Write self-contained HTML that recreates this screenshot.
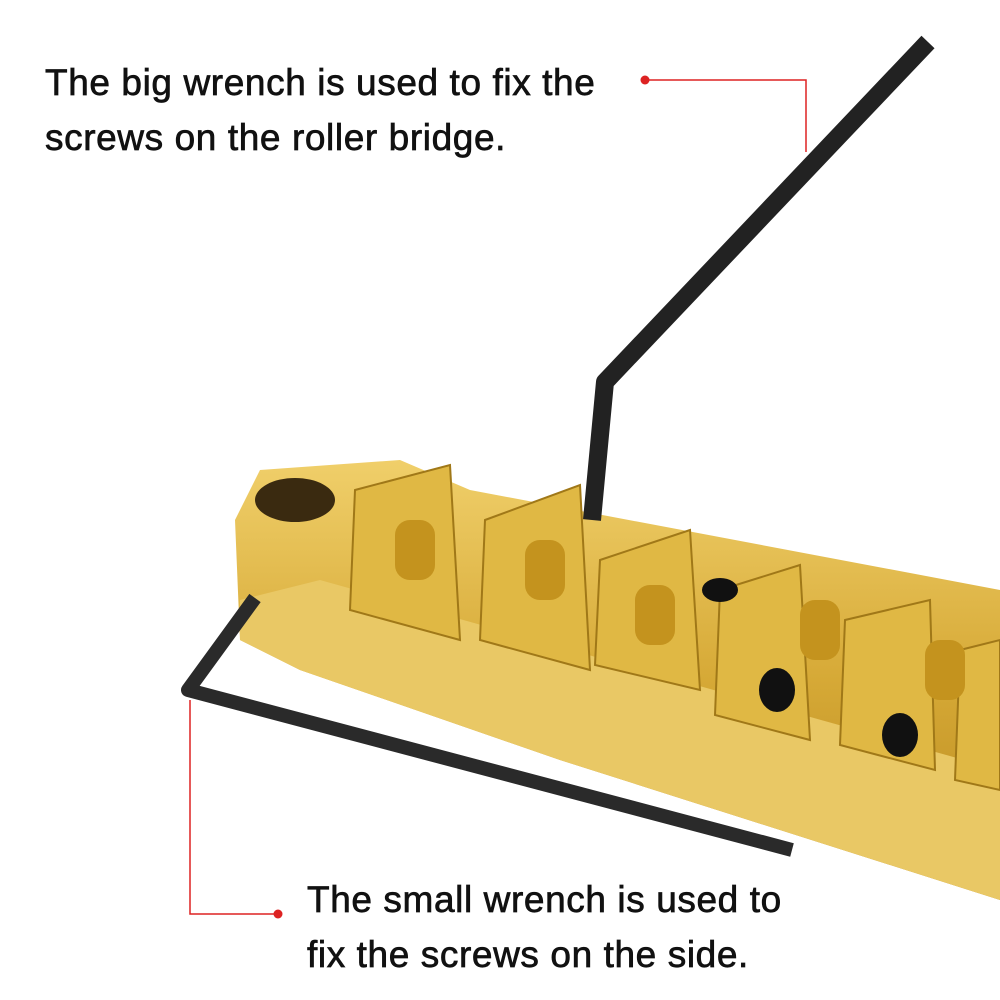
<!DOCTYPE html>
<html><head><style>
html,body{margin:0;padding:0;background:#fff}
.t{position:absolute;font-family:"Liberation Sans",sans-serif;font-size:37px;color:#111;line-height:55px;letter-spacing:0.6px;-webkit-text-stroke:0.7px #111}
</style></head><body>
<div style="position:relative;width:1000px;height:1000px;overflow:hidden">
<svg width="1000" height="1000" style="position:absolute;left:0;top:0">
<defs>
<linearGradient id="g" x1="0" y1="0" x2="0" y2="1">
<stop offset="0" stop-color="#f0cf6a"/><stop offset="0.5" stop-color="#d6a936"/><stop offset="1" stop-color="#b5861c"/>
</linearGradient>
</defs>
<polygon points="235,520 260,470 400,460 470,490 1000,590 1000,900 560,760 300,670 240,640" fill="url(#g)"/>
<polygon points="320,580 1000,770 1000,900 560,760 300,670 240,640 240,600" fill="#e9c865"/>
<ellipse cx="295" cy="500" rx="40" ry="22" fill="#3a2a10"/>
<g fill="#e0b844" stroke="#a07818" stroke-width="2">
<polygon points="355,490 450,465 460,640 350,610"/>
<polygon points="485,520 580,485 590,670 480,640"/>
<polygon points="600,560 690,530 700,690 595,665"/>
<polygon points="720,590 800,565 810,740 715,715"/>
<polygon points="845,620 930,600 935,770 840,745"/>
<polygon points="960,650 1000,640 1000,790 955,780"/>
</g>
<g fill="#c4931e">
<rect x="395" y="520" width="40" height="60" rx="15"/>
<rect x="525" y="540" width="40" height="60" rx="15"/>
<rect x="635" y="585" width="40" height="60" rx="15"/>
<rect x="800" y="600" width="40" height="60" rx="15"/>
<rect x="925" y="640" width="40" height="60" rx="15"/>
</g>
<g fill="#111">
<ellipse cx="777" cy="690" rx="18" ry="22"/>
<ellipse cx="900" cy="735" rx="18" ry="22"/>
<ellipse cx="720" cy="590" rx="18" ry="12"/>
</g>
<polyline points="928,42 605,382 592,520" fill="none" stroke="#222" stroke-width="18" stroke-linejoin="round"/>
<polyline points="255,598 188,690 792,850" fill="none" stroke="#2a2a2a" stroke-width="14" stroke-linejoin="round"/>
<polyline points="645,80 806,80 806,152" fill="none" stroke="#d22" stroke-width="1.5"/>
<circle cx="645" cy="80" r="4.5" fill="#d22"/>
<polyline points="278,914 190,914 190,700" fill="none" stroke="#d22" stroke-width="1.5"/>
<circle cx="278" cy="914" r="4.5" fill="#d22"/>
</svg>
<div class="t" style="left:45px;top:55px">The big wrench is used to fix the<br>screws on the roller bridge.</div>
<div class="t" style="left:307px;top:872px">The small wrench is used to<br>fix the screws on the side.</div>
</div>
</body></html>
